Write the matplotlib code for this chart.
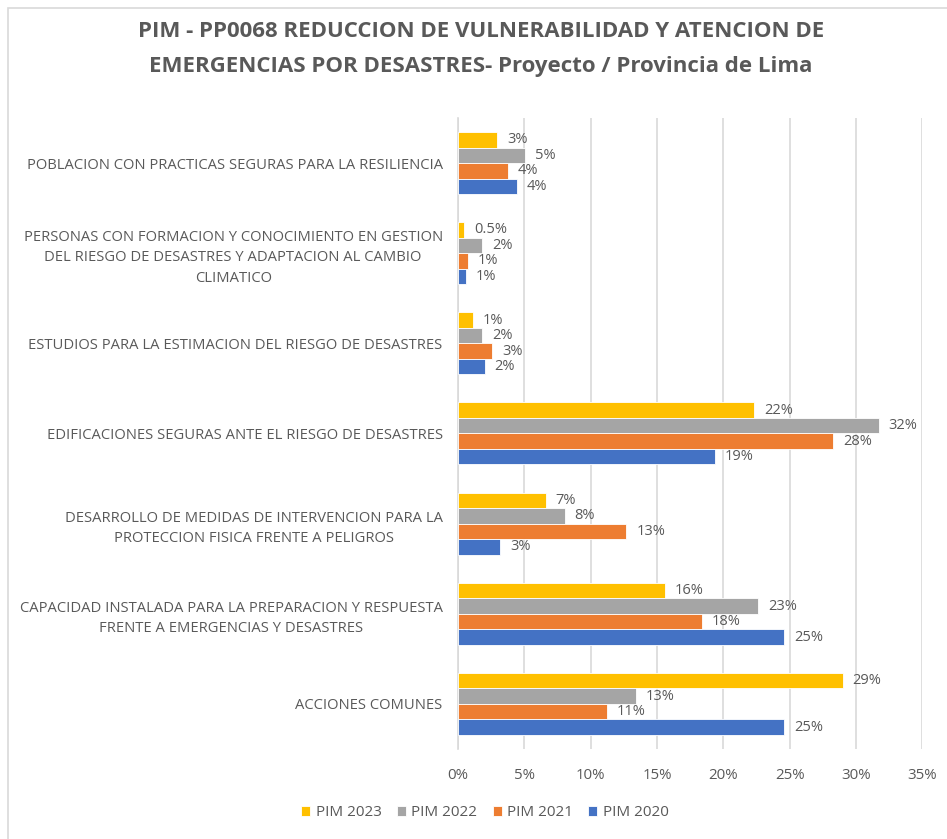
import numpy as np
import matplotlib.pyplot as plt
from matplotlib.patches import Rectangle

categories = [
    "POBLACION CON PRACTICAS SEGURAS PARA LA RESILIENCIA",
    "PERSONAS CON FORMACION Y CONOCIMIENTO EN GESTION\nDEL RIESGO DE DESASTRES Y ADAPTACION AL CAMBIO\nCLIMATICO",
    "ESTUDIOS PARA LA ESTIMACION DEL RIESGO DE DESASTRES",
    "EDIFICACIONES SEGURAS ANTE EL RIESGO DE DESASTRES",
    "DESARROLLO DE MEDIDAS DE INTERVENCION PARA LA\nPROTECCION FISICA FRENTE A PELIGROS",
    "CAPACIDAD INSTALADA PARA LA PREPARACION Y RESPUESTA\nFRENTE A EMERGENCIAS Y DESASTRES",
    "ACCIONES COMUNES",
]

# percent values
pim_2023 = [2.96, 0.48, 1.13, 22.3, 6.6, 15.6, 29.0]
pim_2022 = [5.06, 1.8, 1.8, 31.7, 8.04, 22.6, 13.4]
pim_2021 = [3.78, 0.73, 2.6, 28.3, 12.7, 18.4, 11.2]
pim_2020 = [4.46, 0.58, 2.0, 19.35, 3.16, 24.6, 24.6]

series = [
    ("PIM 2023", pim_2023, "#FFC000"),
    ("PIM 2022", pim_2022, "#A5A5A5"),
    ("PIM 2021", pim_2021, "#ED7D31"),
    ("PIM 2020", pim_2020, "#4472C4"),
]

plt.rcParams['font.family'] = ['Open Sans', 'DejaVu Sans']
txt_color = "#595959"

fig = plt.figure(figsize=(9.47, 8.39), dpi=100)
ax = fig.add_axes([0.4836, 0.1073, 0.4904, 0.7521])

# light chart border like an Excel chart area
fig.patches.append(Rectangle((8 / 947, -0.02), 1.0, 1 - 8 / 839 + 0.02,
                             transform=fig.transFigure, fill=False,
                             edgecolor="#D9D9D9", linewidth=1.2))


def fmt(v):
    if round(v) == 0:
        return "{:.1f}%".format(v)
    return "{:.0f}%".format(v)


y = np.arange(len(categories))
h = 0.172
for i, (name, vals, col) in enumerate(series):
    pos = y + (i - 1.5) * h
    ax.barh(pos, vals, height=h, color=col, edgecolor="white", linewidth=0.6,
            label=name, zorder=3)
    for p, v in zip(pos, vals):
        ax.text(v + 0.75, p, fmt(v), va="center", ha="left",
                fontsize=10.5, color=txt_color)

ax.set_xlim(0, 35)
ax.set_ylim(len(categories) - 0.5, -0.5)
ax.set_xticks(np.arange(0, 36, 5))
ax.set_xticklabels(["{}%".format(t) for t in range(0, 36, 5)])
ax.set_yticks(y)
ax.set_yticklabels(categories, multialignment="center", linespacing=1.5)
ax.tick_params(axis="both", length=0, colors=txt_color, labelsize=10.8)
ax.tick_params(axis="y", pad=11, labelsize=10.6)
ax.tick_params(axis="x", pad=14)
ax.grid(axis="x", color="#D9D9D9", linewidth=1.2, zorder=0)
for s in ["top", "right", "bottom"]:
    ax.spines[s].set_visible(False)
ax.spines["left"].set_color("#D9D9D9")
ax.spines["left"].set_linewidth(1.2)

fig.text(0.508, 0.963, "PIM - PP0068 REDUCCION DE VULNERABILIDAD Y ATENCION DE",
         ha="center", va="center", fontsize=16, fontweight="bold", color=txt_color)
fig.text(0.508, 0.921, "EMERGENCIAS POR DESASTRES- Proyecto / Provincia de Lima",
         ha="center", va="center", fontsize=16, fontweight="bold", color=txt_color)

leg = fig.legend(loc="center", bbox_to_anchor=(0.512, 0.031), ncol=4,
                 frameon=False, fontsize=11, handlelength=0.6, handleheight=0.6,
                 handletextpad=0.35, columnspacing=1.0)
for t in leg.get_texts():
    t.set_color(txt_color)

fig.savefig("out.png", dpi=100)
